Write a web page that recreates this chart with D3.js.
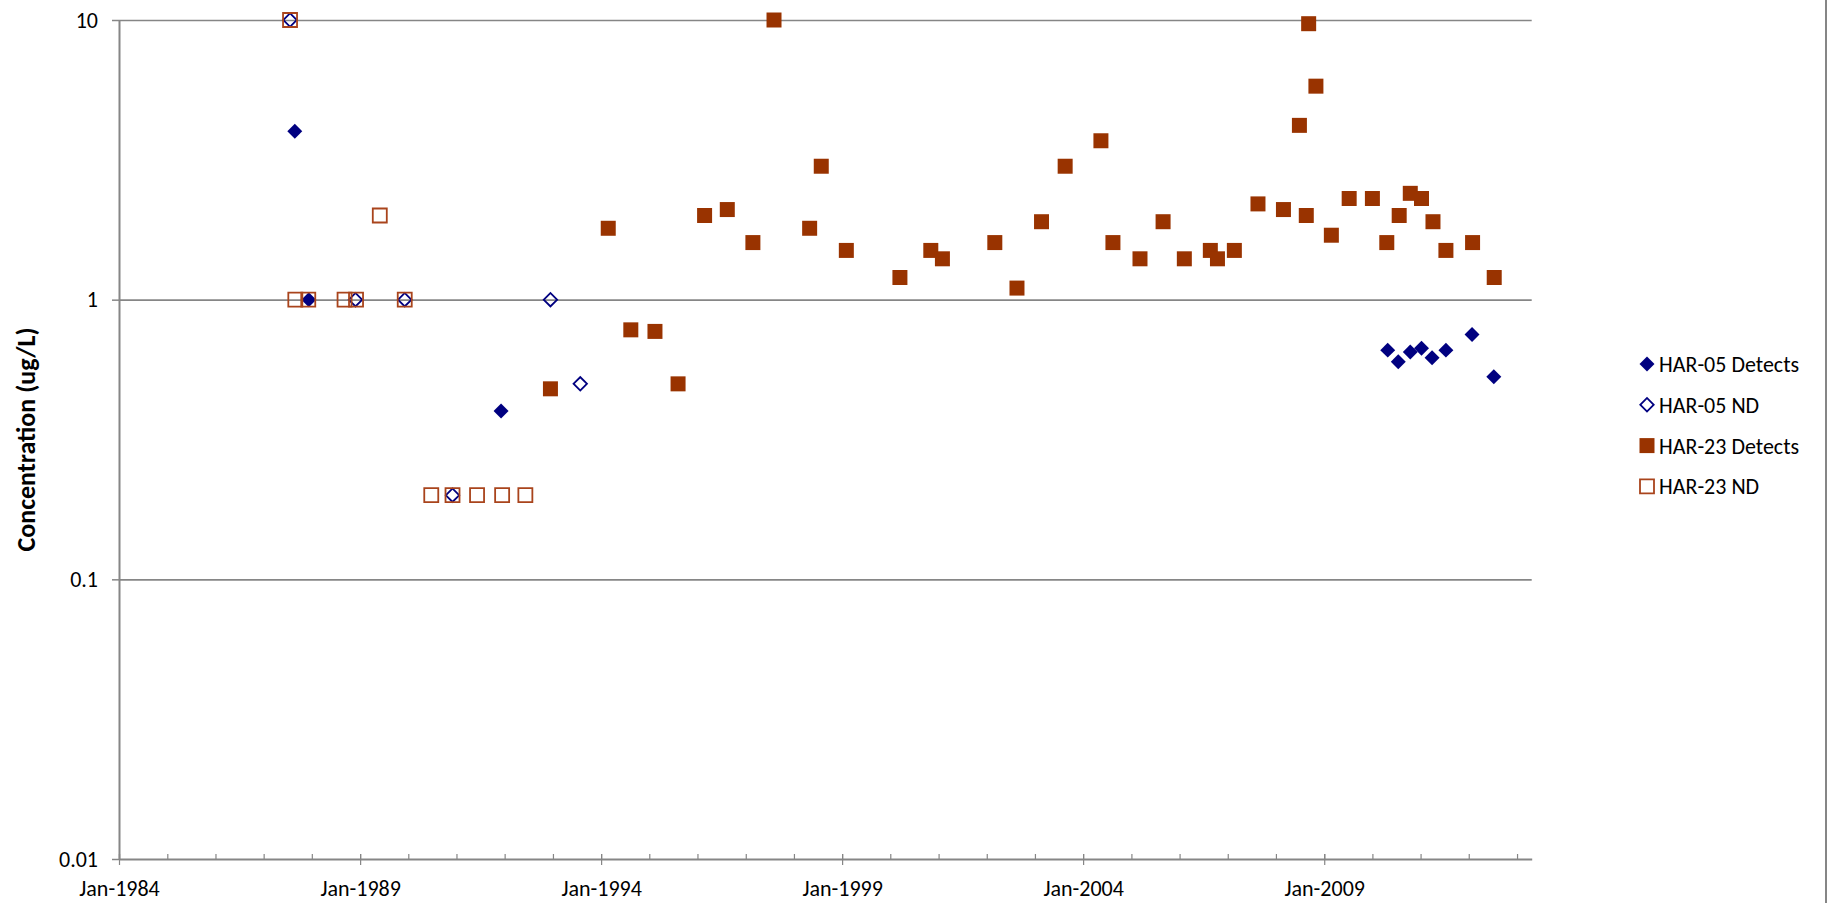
<!DOCTYPE html>
<html>
<head>
<meta charset="utf-8">
<title>HAR-05 / HAR-23 Concentration</title>
<script src="https://cdn.jsdelivr.net/npm/d3@7"></script>
<style>
  body { margin: 0; background: #fff; }
  text { font-family: Carlito, Lato, "Open Sans", sans-serif; fill: #000; }
</style>
</head>
<body>
<div id="chart"></div>
<script>
// sample dates and concentrations (ug/L)
const har05DetectDates = ["1987-08-25", "1987-12-09", "1991-12-05", "2010-04-27", "2010-07-16",
    "2010-10-15", "2011-01-08", "2011-03-29", "2011-07-12", "2012-01-26", "2012-07-09"];
const har05DetectValues = [4.0, 1.0, 0.40, 0.66, 0.60, 0.65, 0.67, 0.62, 0.66, 0.75, 0.53];

const har05NdDates = ["1987-07-20", "1988-11-27", "1989-12-05", "1990-12-02", "1992-12-13", "1993-07-27"];
const har05NdValues = [10, 1, 1, 0.2, 1, 0.5];

const har23DetectDates = ["1992-12-13", "1994-02-24", "1994-08-14", "1995-02-13", "1995-08-07",
    "1996-02-24", "1996-08-14", "1997-02-24", "1997-08-03", "1998-04-30", "1998-07-27",
    "1999-02-02", "2000-03-14", "2000-11-03", "2001-01-30", "2002-03-03", "2002-08-18",
    "2003-02-20", "2003-08-18", "2004-05-15", "2004-08-14", "2005-03-07", "2005-08-29",
    "2006-02-06", "2006-08-22", "2006-10-15", "2007-02-20", "2007-08-18", "2008-02-27",
    "2008-06-27", "2008-08-18", "2008-09-05", "2008-10-30", "2009-02-24", "2009-07-09",
    "2010-01-01", "2010-04-20", "2010-07-23", "2010-10-15", "2011-01-08", "2011-04-05",
    "2011-07-12", "2012-01-30", "2012-07-12"];
const har23DetectValues = [0.48, 1.8, 0.78, 0.77, 0.5,
    2.0, 2.1, 1.6, 10, 1.8, 3.0,
    1.5, 1.2, 1.5, 1.4, 1.6, 1.1,
    1.9, 3.0, 3.7, 1.6, 1.4, 1.9,
    1.4, 1.5, 1.4, 1.5, 2.2, 2.1,
    4.2, 2.0, 9.7, 5.8, 1.7, 2.3,
    2.3, 1.6, 2.0, 2.4, 2.3, 1.9,
    1.5, 1.6, 1.2];

const har23NdDates = ["1987-07-20", "1987-08-29", "1987-12-05", "1988-09-05", "1988-12-01", "1989-05-30",
    "1989-12-05", "1990-06-24", "1990-12-02", "1991-06-06", "1991-12-13", "1992-06-06"];
const har23NdValues = [10, 1, 1, 1, 1, 2, 1, 0.2, 0.2, 0.2, 0.2, 0.2];

const seriesNames = ["HAR-05 Detects", "HAR-05 ND", "HAR-23 Detects", "HAR-23 ND"];
const yTickValues = [0.01, 0.1, 1, 10];
const yTickLabels = ["0.01", "0.1", "1", "10"];
const xMajorYears = [1984, 1989, 1994, 1999, 2004, 2009];

const width = 1830, height = 903;
const plot = { left: 119, right: 1531.7, top: 20, bottom: 859 };

const navy = "#000080", brown = "#993300", grey = "#868686";
const fontSize = "22px";

const parse = d3.timeParse("%Y-%m-%d");
const toPoints = (dates, values) => dates.map((d, i) => ({ date: parse(d), value: values[i] }));

const series = [
    { name: seriesNames[0], points: toPoints(har05DetectDates, har05DetectValues), shape: "diamond", fill: navy, stroke: "none" },
    { name: seriesNames[1], points: toPoints(har05NdDates, har05NdValues), shape: "diamond", fill: "none", stroke: navy },
    { name: seriesNames[2], points: toPoints(har23DetectDates, har23DetectValues), shape: "square", fill: brown, stroke: "none" },
    { name: seriesNames[3], points: toPoints(har23NdDates, har23NdValues), shape: "square", fill: "none", stroke: "#a9441c" }
];

const svg = d3.select("#chart").append("svg")
    .attr("width", width)
    .attr("height", height);

const x = d3.scaleTime()
    .domain([new Date(1984, 0, 1), new Date(2013, 3, 22)])
    .range([plot.left, plot.right]);

const y = d3.scaleLog()
    .domain([0.01, 10])
    .range([plot.bottom, plot.top]);

// horizontal gridlines
svg.append("g")
    .attr("transform", `translate(${plot.left},0)`)
    .call(d3.axisLeft(y).tickValues(yTickValues.slice(1)).tickSize(-(plot.right - plot.left)).tickFormat(""))
    .call(g => g.select(".domain").remove())
    .call(g => g.selectAll("line").attr("stroke", grey).attr("stroke-width", 1.6));

// y axis
svg.append("g")
    .attr("transform", `translate(${plot.left},0)`)
    .call(d3.axisLeft(y).tickValues(yTickValues).tickSizeInner(7).tickSizeOuter(0).tickPadding(14)
        .tickFormat((d, i) => yTickLabels[i]))
    .call(g => g.select(".domain").attr("stroke", grey).attr("stroke-width", 2))
    .call(g => g.selectAll("line").attr("stroke", grey).attr("stroke-width", 1.5))
    .call(g => g.selectAll("text").style("font-size", fontSize).attr("fill", "#000"));

// minor x ticks (every year, pointing up)
svg.append("g")
    .attr("transform", `translate(0,${plot.bottom})`)
    .call(d3.axisBottom(x).ticks(d3.timeYear.every(1)).tickSize(-5).tickFormat(""))
    .call(g => g.select(".domain").remove())
    .call(g => g.selectAll("line").attr("stroke", grey).attr("stroke-width", 1.2));

// x axis with major ticks crossing the line
svg.append("g")
    .attr("transform", `translate(0,${plot.bottom})`)
    .call(d3.axisBottom(x).tickValues(xMajorYears.map(yr => new Date(yr, 0, 1)))
        .tickSizeInner(6).tickSizeOuter(0).tickPadding(15).tickFormat(d3.timeFormat("%b-%Y")))
    .call(g => g.select(".domain").attr("stroke", grey).attr("stroke-width", 2.2))
    .call(g => g.selectAll(".tick line").attr("y1", -5).attr("stroke", grey).attr("stroke-width", 1.2))
    .call(g => g.selectAll("text").style("font-size", fontSize).attr("fill", "#000"));

// y axis title
svg.append("text")
    .attr("transform", `translate(35,${(plot.top + plot.bottom) / 2}) rotate(-90)`)
    .attr("text-anchor", "middle")
    .style("font-size", "26px")
    .style("font-weight", "bold")
    .text("Concentration (ug/L)");

// right border of the chart area
svg.append("line")
    .attr("x1", 1826).attr("x2", 1826)
    .attr("y1", 0).attr("y2", height)
    .attr("stroke", grey).attr("stroke-width", 2);

const diamond = d3.symbol().type(d3.symbolSquare).size(112)();
const square = d3.symbol().type(d3.symbolSquare).size(225)();
const openDiamond = d3.symbol().type(d3.symbolSquare).size(90)();
const openSquare = d3.symbol().type(d3.symbolSquare).size(196)();

function markerPath(s) {
    if (s.shape === "diamond") return s.fill === "none" ? openDiamond : diamond;
    return s.fill === "none" ? openSquare : square;
}

// markers, drawn in series order
series.forEach(s => {
    svg.append("g")
        .selectAll("path")
        .data(s.points)
        .join("path")
        .attr("d", markerPath(s))
        .attr("transform", d => `translate(${x(d.date)},${y(d.value)})` + (s.shape === "diamond" ? " rotate(45)" : ""))
        .attr("fill", s.fill)
        .attr("stroke", s.stroke)
        .attr("stroke-width", s.fill === "none" ? 1.8 : 0);
});

// legend
const legend = svg.append("g").attr("transform", "translate(1647,364)");
const rows = legend.selectAll("g")
    .data(series)
    .join("g")
    .attr("transform", (d, i) => `translate(0,${i * 40.8})`);

rows.append("path")
    .attr("d", d => markerPath(d))
    .attr("transform", d => d.shape === "diamond" ? "rotate(45)" : "")
    .attr("fill", d => d.fill)
    .attr("stroke", d => d.stroke)
    .attr("stroke-width", d => d.fill === "none" ? 1.8 : 0);

rows.append("text")
    .attr("x", 12)
    .attr("y", 8)
    .style("font-size", fontSize)
    .text(d => d.name);
</script>
</body>
</html>
